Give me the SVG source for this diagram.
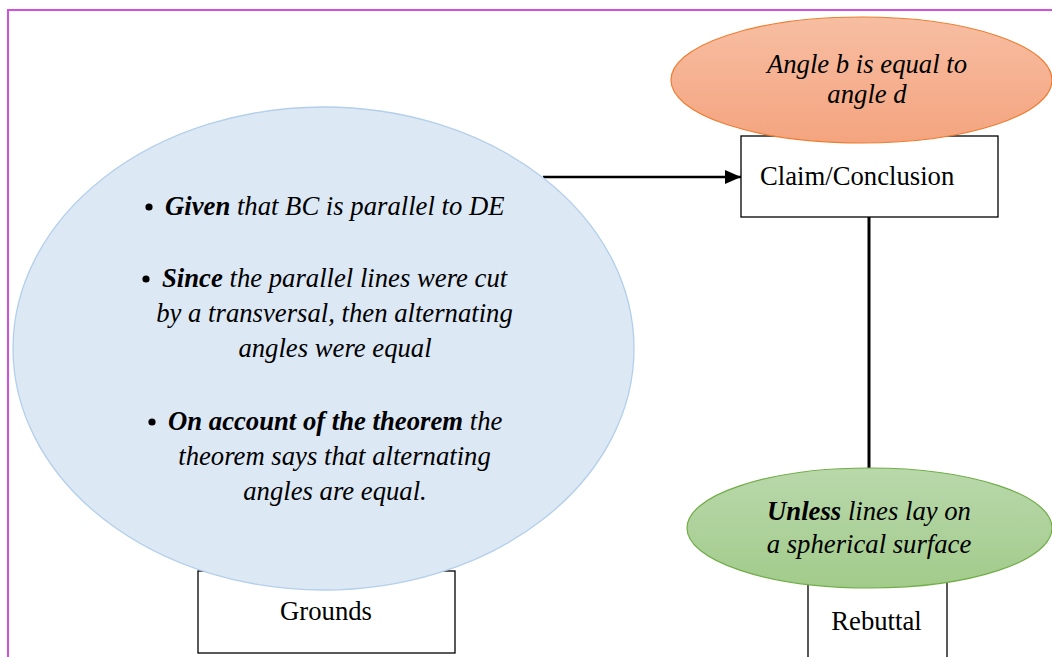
<svg xmlns="http://www.w3.org/2000/svg" width="1052" height="657" viewBox="0 0 1052 657">
  <defs>
    <linearGradient id="gradClaim" x1="0" y1="0" x2="0" y2="1">
      <stop offset="0" stop-color="#f7bea2"/>
      <stop offset="1" stop-color="#f4a47f"/>
    </linearGradient>
    <linearGradient id="gradRebuttal" x1="0" y1="0" x2="0" y2="1">
      <stop offset="0" stop-color="#b9d8ab"/>
      <stop offset="1" stop-color="#a2cb8b"/>
    </linearGradient>
    <marker id="arrowHead" viewBox="0 0 16 14" refX="16" refY="7" markerWidth="16" markerHeight="14" markerUnits="userSpaceOnUse" orient="auto">
      <path d="M0,0 L16,7 L0,14 Z" fill="#000"/>
    </marker>
    <style>
      .box { fill: #fff; stroke: #000; stroke-width: 1.3; }
      .mid { text-anchor: middle; }
      .conn { stroke: #000; fill: none; }
    </style>
  </defs>

  <rect width="1052" height="657" fill="#fff"/>
  <!-- page frame -->
  <path d="M8,657 L8,10 L1052,10" fill="none" stroke="#d24fe0" stroke-width="2"/>

  <g id="connectors">
    <line class="conn" x1="543" y1="177" x2="741" y2="177" stroke-width="2.5" marker-end="url(#arrowHead)"/>
    <line class="conn" x1="869" y1="217" x2="869" y2="469" stroke-width="3"/>
  </g>

  <g id="grounds">
    <rect class="box" x="198" y="571" width="257" height="82"/>
    <ellipse cx="323.5" cy="348.5" rx="310.5" ry="241.5" fill="#dde8f5" stroke="#b3cfea" stroke-width="1.3"/>
    <g font-family="Liberation Serif" font-size="26.7" font-style="italic" fill="#000">
      <circle cx="149" cy="207" r="3.6"/>
      <text x="165" y="215"><tspan font-weight="bold">Given</tspan> that BC is parallel to DE</text>
      <circle cx="146" cy="279" r="3.6"/>
      <text x="162" y="287"><tspan font-weight="bold">Since</tspan> the parallel lines were cut</text>
      <text class="mid" x="334.5" y="322">by a transversal, then alternating</text>
      <text class="mid" x="335" y="357">angles were equal</text>
      <circle cx="152" cy="422" r="3.6"/>
      <text x="168" y="430"><tspan font-weight="bold">On account of the theorem</tspan> the</text>
      <text class="mid" x="334.5" y="465">theorem says that alternating</text>
      <text class="mid" x="335" y="500">angles are equal.</text>
    </g>
    <text class="mid" x="326" y="620" font-family="Liberation Serif" font-size="26.7" fill="#000">Grounds</text>
  </g>

  <g id="claim">
    <rect class="box" x="741" y="136" width="257" height="81"/>
    <ellipse cx="861.5" cy="80" rx="190.5" ry="63" fill="url(#gradClaim)" stroke="#ed7d31" stroke-width="1.2"/>
    <g font-family="Liberation Serif" font-size="26.7" font-style="italic" fill="#000">
      <text class="mid" x="867" y="73">Angle b is equal to</text>
      <text class="mid" x="867" y="103">angle d</text>
    </g>
    <text x="760" y="185" font-family="Liberation Serif" font-size="26.7" fill="#000">Claim/Conclusion</text>
  </g>

  <g id="rebuttal">
    <rect class="box" x="808" y="578" width="139" height="100"/>
    <ellipse cx="869.5" cy="528" rx="182.5" ry="60" fill="url(#gradRebuttal)" stroke="#70ad47" stroke-width="1.2"/>
    <g font-family="Liberation Serif" font-size="26.7" font-style="italic" fill="#000">
      <text class="mid" x="869" y="520"><tspan font-weight="bold">Unless</tspan> lines lay on</text>
      <text class="mid" x="869" y="553">a spherical surface</text>
    </g>
    <text class="mid" x="876.5" y="630" font-family="Liberation Serif" font-size="26.7" fill="#000">Rebuttal</text>
  </g>
</svg>
